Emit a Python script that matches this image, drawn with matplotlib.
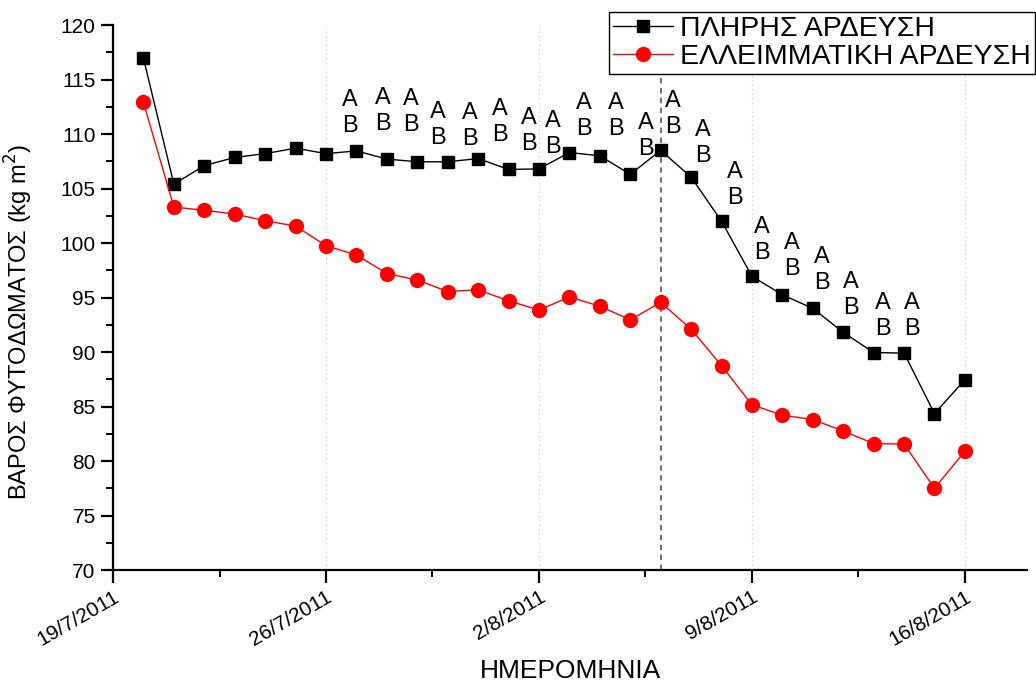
import datetime as dt
import matplotlib
matplotlib.use("Agg")
import matplotlib.pyplot as plt
import matplotlib.dates as mdates
from matplotlib.ticker import FuncFormatter, FixedLocator

plt.rcParams['font.family'] = ['Liberation Sans', 'DejaVu Sans']

# measurement dates: daily, 20/7/2011 to 16/8/2011
start = dt.date(2011, 7, 20)
dates = [start + dt.timedelta(days=i) for i in range(28)]

# canopy weight (kg m^2), full irrigation
full_irr = [116.95, 105.4, 107.1, 107.85, 108.2, 108.7, 108.2, 108.45, 107.7, 107.45,
            107.45, 107.75, 106.75, 106.8, 108.3, 108.0, 106.3, 108.5, 106.05, 102.0,
            96.95, 95.25, 94.0, 91.8, 89.95, 89.9, 84.35, 87.45]
# canopy weight (kg m^2), deficit irrigation
deficit_irr = [112.9, 103.3, 103.0, 102.65, 102.05, 101.55, 99.75, 98.9, 97.2, 96.6,
               95.55, 95.7, 94.7, 93.85, 95.05, 94.2, 92.95, 94.55, 92.1, 88.75,
               85.15, 84.2, 83.8, 82.75, 81.6, 81.55, 77.5, 80.9]

# significance letters: days after 19/7 and height of the "A"
letter_days = [7.79, 8.87, 9.79, 10.68, 11.73, 12.72, 13.67, 14.46, 15.48, 16.53,
               17.52, 18.40, 19.39, 20.44, 21.33, 22.31, 23.30, 24.25, 25.30, 26.26]
letter_y = [113.1, 113.3, 113.2, 112.0, 111.9, 112.3, 111.5, 111.2, 112.85, 112.85,
            111.0, 113.0, 110.4, 106.5, 101.5, 100.0, 98.7, 96.4, 94.5, 94.5]

tick_dates = [dt.date(2011, 7, 19), dt.date(2011, 7, 26), dt.date(2011, 8, 2),
              dt.date(2011, 8, 9), dt.date(2011, 8, 16)]
split_date = dt.date(2011, 8, 6)

fig = plt.figure(figsize=(10.36, 6.87), dpi=100)
ax = fig.add_axes([0.1091, 0.1703, 0.8822, 0.7933])

x = mdates.date2num(dates)
x0 = mdates.date2num(dt.date(2011, 7, 19))

ax.plot(x, full_irr, color='black', lw=1.0, marker='s', ms=9,
        mfc='black', mec='black', label='ΠΛΗΡΗΣ ΑΡΔΕΥΣΗ', zorder=4)
ax.plot(x, deficit_irr, color='#ff0000', lw=1.0, marker='o', ms=10,
        mfc='#ff0000', mec='#ff0000', label='ΕΛΛΕΙΜΜΑΤΙΚΗ ΑΡΔΕΥΣΗ', zorder=4)

for d, ya in zip(letter_days, letter_y):
    ax.text(x0 + d, ya, 'A', ha='center', va='center', fontsize=17)
    ax.text(x0 + d, ya - 2.4, 'B', ha='center', va='center', fontsize=17)

major = mdates.date2num(tick_dates)
ax.xaxis.set_major_locator(FixedLocator(major))
ax.xaxis.set_minor_locator(FixedLocator([m + 3.5 for m in major]))
ax.xaxis.set_major_formatter(FuncFormatter(
    lambda v, p: '{0.day}/{0.month}/{0.year}'.format(mdates.num2date(v))))
for m in major[1:]:
    ax.axvline(m, color='#c8c8c8', lw=0.8, ls=(0, (1, 3)), zorder=1)
ax.axvline(mdates.date2num(split_date), color='#606060', lw=1.3, ls=(0, (3, 2.5)), zorder=2)

ax.set_xlim(x0, x0 + 30.04)
ax.set_ylim(70, 120)
ax.set_yticks(range(70, 121, 5))
ax.set_yticks([70 + 2.5 * i for i in range(1, 20, 2)], minor=True)

for s in ['top', 'right']:
    ax.spines[s].set_visible(False)
for s in ['left', 'bottom']:
    ax.spines[s].set_linewidth(1.6)
ax.tick_params(which='major', direction='out', length=9, width=1.6, labelsize=15)
ax.tick_params(which='minor', direction='out', length=5, width=1.4)
plt.setp(ax.get_xticklabels(), rotation=30, ha='right', rotation_mode='anchor')

ax.set_xlabel('ΗΜΕΡΟΜΗΝΙΑ', fontsize=19)
ax.xaxis.set_label_coords(0.5, -0.163)
ax.set_ylabel('ΒΑΡΟΣ ΦΥΤΟΔΩΜΑΤΟΣ (kg m$^2$)', fontsize=17)
ax.yaxis.set_label_coords(-0.085, 0.455)

ax.legend(loc='upper left', bbox_to_anchor=(609 / 1036, 1 - 12 / 687),
          bbox_transform=fig.transFigure, fontsize=20.5, frameon=True,
          fancybox=False, edgecolor='black', framealpha=1, borderaxespad=0,
          handlelength=2.1, handletextpad=0.25, borderpad=0.15, labelspacing=0.05)

fig.savefig('out.png', dpi=100)
